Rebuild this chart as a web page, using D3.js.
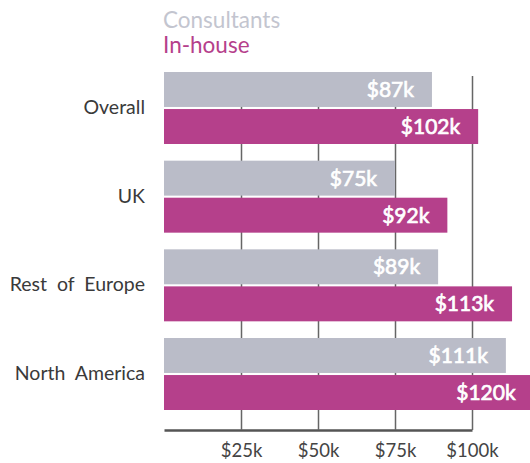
<!DOCTYPE html>
<html>
<head>
<meta charset="utf-8">
<script src="https://cdn.jsdelivr.net/npm/d3@7"></script>
<style>
  body { margin: 0; background: #fff; }
  svg { display: block; font-family: Lato, "Open Sans", sans-serif; }
</style>
</head>
<body>
<svg width="530" height="463"></svg>
<script>
// data
const categories = ["Overall", "UK", "Rest of Europe", "North America"];
const seriesNames = ["Consultants", "In-house"];
const consultants = [87, 75, 89, 111];
const inhouse = [102, 92, 113, 120];
const tickValues = [25, 50, 75, 100];

const colors = { "Consultants": "#babcc8", "In-house": "#b5408b" };
const legendColors = { "Consultants": "#c3c5cf", "In-house": "#b5408b" };

const svg = d3.select("svg");

const rows = categories.map((c, i) => ({
  cat: c,
  values: [
    { series: "Consultants", value: consultants[i] },
    { series: "In-house", value: inhouse[i] }
  ]
}));

// scales
const x = d3.scaleLinear().domain([0, 100]).range([164, 472]);

const y = d3.scaleBand()
  .domain(categories)
  .range([72, 410])
  .paddingInner(0.188)
  .paddingOuter(0);

const y1 = d3.scaleBand()
  .domain(seriesNames)
  .range([0, y.bandwidth()])
  .paddingInner(0.056);

// grid + axis
const axis = svg.append("g")
  .attr("transform", "translate(0,430)")
  .call(d3.axisBottom(x)
    .tickValues(tickValues)
    .tickSize(-(430 - 76))
    .tickSizeOuter(0)
    .tickPadding(14)
    .tickFormat(d => `$${d}k`));

axis.select(".domain").attr("stroke", "#555").attr("stroke-width", 2.5);
axis.selectAll(".tick line").attr("stroke", "#666").attr("stroke-width", 1.5);
axis.selectAll(".tick text")
  .attr("fill", "#444")
  .style("font-size", "18.5px")
  .style("font-family", "Lato, sans-serif");

// bars
const groups = svg.append("g")
  .selectAll("g")
  .data(rows)
  .join("g")
  .attr("transform", d => `translate(0,${y(d.cat)})`);

groups.selectAll("rect")
  .data(d => d.values)
  .join("rect")
  .attr("x", x(0))
  .attr("y", d => y1(d.series))
  .attr("width", d => x(d.value) - x(0))
  .attr("height", y1.bandwidth())
  .attr("fill", d => colors[d.series]);

// value labels, thin stroke for a semi-bold look
groups.selectAll("text.val")
  .data(d => d.values)
  .join("text")
  .attr("class", "val")
  .attr("x", d => x(d.value) - 18)
  .attr("y", d => y1(d.series) + y1.bandwidth() / 2)
  .attr("dy", "0.36em")
  .attr("text-anchor", "end")
  .attr("fill", "#fff")
  .attr("stroke", "#fff")
  .attr("stroke-width", 0.7)
  .style("font-size", "21px")
  .text(d => `$${d.value}k`);

// category labels
svg.append("g")
  .selectAll("text")
  .data(categories)
  .join("text")
  .attr("x", 145)
  .attr("y", d => y(d) + y.bandwidth() / 2)
  .attr("dy", "0.3em")
  .attr("text-anchor", "end")
  .attr("fill", "#3a3a3a")
  .style("font-size", "19.5px")
  .style("word-spacing", "5px")
  .text(d => d);

// legend
svg.append("g")
  .selectAll("text")
  .data(seriesNames)
  .join("text")
  .attr("x", 163)
  .attr("y", (d, i) => 28 + i * 25)
  .attr("fill", d => legendColors[d])
  .style("font-size", "22.5px")
  .text(d => d);
</script>
</body>
</html>
